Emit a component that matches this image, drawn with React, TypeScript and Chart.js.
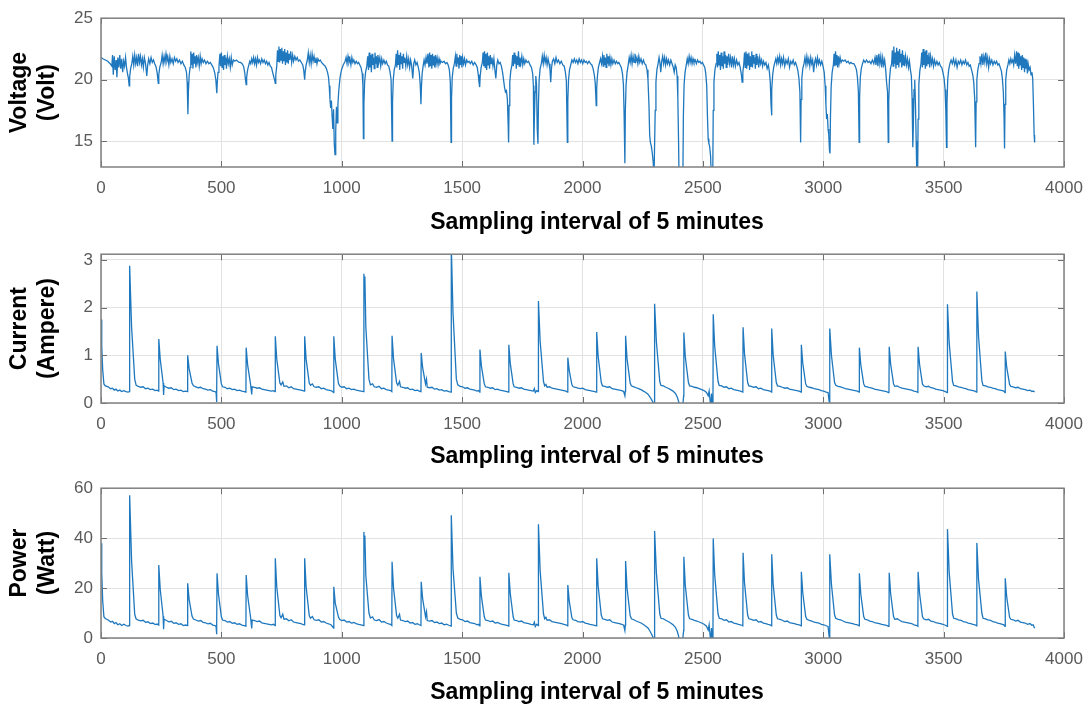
import React, { useEffect, useRef } from 'react';
import { Chart, registerables } from 'chart.js';

Chart.register(...registerables);
Chart.defaults.font.family = '"Liberation Sans", Arial, sans-serif';

const xTicks = [0, 500, 1000, 1500, 2000, 2500, 3000, 3500, 4000];
const voltageTicks = [15, 20, 25];
const currentTicks = [0, 1, 2, 3];
const powerTicks = [0, 20, 40, 60];
const xTitle = 'Sampling interval of 5 minutes';
const voltageTitle = ['Voltage', '(Volt)'];
const currentTitle = ['Current', '(Ampere)'];
const powerTitle = ['Power', '(Watt)'];

const voltagePts: [number, number][] = [
  [0,21.8],[8,21.7],[18,21.6],[28,21.5],[38,21.3],[45,21.1],[48,22.0],[51,20.4],[55,21.9],[59,20.8],[63,21.6],[66,20.2],[70,21.8],[74,21.0],[78,22.0],[82,20.9],[86,21.7],[90,20.6],[94,21.5],[98,21.1],[102,21.8],[106,21.0],[110,20.5],[114,20.1],[117,19.5],[119,20.2],[123,20.9],[128,21.3],
  [132,21.9],[136,21.2],[140,22.0],[144,21.3],[148,21.8],[152,21.1],[156,22.1],[160,21.4],[164,21.9],[168,21.2],[172,21.7],[176,21.0],[180,21.8],[185,21.3],[190,20.3],[194,21.2],[198,21.7],[203,21.3],[208,21.8],[213,21.4],[218,21.6],[223,21.3],[228,21.1],[233,20.6],[238,19.7],[240,20.4],[244,21.0],[250,21.4],
  [254,22.0],[258,21.3],[262,21.9],[266,21.4],[270,22.1],[274,21.5],[278,21.8],[282,21.2],[286,21.9],[290,21.4],[295,21.7],[300,21.3],[305,21.8],[310,21.5],[315,21.7],[320,21.4],[326,21.6],[332,21.3],[338,21.5],[344,21.2],[350,21.0],[355,20.6],[358,19.8],[361,17.2],[363,19.0],[366,20.3],[370,21.0],
  [373,22.3],[376,21.2],[379,22.1],[382,20.9],[385,22.2],[388,21.3],[391,21.9],[394,21.0],[397,22.0],[400,21.4],[404,21.8],[408,21.1],[412,21.9],[416,21.3],[420,21.7],[425,21.4],[430,21.6],[436,21.3],[442,21.5],[448,21.3],[454,21.4],[460,21.2],[466,21.0],[472,20.6],[477,20.0],[481,18.9],[483,19.8],[486,20.6],[490,21.1],
  [494,22.1],[497,21.1],[500,22.2],[503,21.0],[506,21.9],[509,20.8],[512,22.0],[515,21.2],[518,21.8],[521,20.9],[525,21.9],[529,21.3],[533,21.7],[537,21.0],[541,21.8],[545,21.2],[550,21.6],[556,21.5],[562,21.6],[568,21.5],[574,21.4],[580,21.4],[586,21.3],[592,21.1],[597,20.6],[600,20.0],[603,19.6],[605,20.2],[609,20.8],[614,21.2],
  [618,21.5],[622,21.3],[626,21.7],[630,21.4],[634,21.8],[638,21.3],[642,21.7],[646,21.2],[650,21.8],[654,21.4],[658,21.6],[663,21.3],[668,21.7],[673,21.4],[678,21.6],[683,21.3],[688,21.5],[693,21.2],[698,21.4],[703,21.1],[708,21.0],[713,20.6],[718,20.2],[721,20.0],[724,19.7],[726,20.4],[730,21.1],
  [733,22.4],[736,21.5],[739,22.7],[742,21.4],[745,22.5],[748,21.6],[751,22.6],[754,21.3],[757,22.3],[760,21.5],[763,22.5],[766,21.2],[769,22.2],[772,21.4],[775,22.4],[778,21.3],[781,22.1],[784,21.6],[788,22.3],[792,21.4],[796,22.0],[800,21.5],[805,21.9],[810,21.6],[815,21.8],[820,21.5],[826,21.6],[832,21.4],[838,21.2],[842,20.8],[846,20.0],[848,20.6],[852,21.2],[857,21.6],
  [861,22.2],[865,21.4],[869,22.0],[873,21.3],[877,22.1],[881,21.5],[885,21.9],[889,21.4],[893,21.8],[897,21.3],[901,21.7],[906,21.5],[911,21.6],[916,21.4],[921,21.3],[926,21.2],[931,21.1],[936,20.9],[941,20.6],[945,20.2],[948,19.5],[951,18.4],[954,17.7],[957,18.3],[960,17.0],[963,16.0],[966,17.6],[969,14.8],[972,13.9],[975,15.8],[978,17.8],[981,16.5],[984,18.0],[988,19.2],[993,20.2],[999,20.8],[1006,21.2],[1014,21.5],
  [1018,21.8],[1022,21.3],[1026,21.9],[1030,21.4],[1034,21.7],[1038,21.2],[1042,21.8],[1046,21.4],[1050,21.6],[1055,21.3],[1060,21.5],[1065,21.3],[1070,21.4],[1075,21.2],[1080,21.0],[1085,20.5],[1088,19.5],[1090,15.2],[1092,18.0],[1095,19.8],[1099,20.6],[1104,21.1],
  [1108,21.9],[1111,20.8],[1114,22.2],[1117,21.0],[1120,22.0],[1123,20.6],[1126,22.1],[1129,21.2],[1132,21.8],[1135,20.9],[1138,22.2],[1141,21.3],[1144,21.9],[1147,21.0],[1150,22.0],[1154,21.4],[1158,21.8],[1162,21.1],[1166,21.7],[1170,21.3],[1175,21.6],[1180,21.3],[1185,21.5],[1190,21.2],[1195,21.1],[1200,20.7],[1205,20.0],[1209,15.0],[1211,18.2],[1214,20.0],[1218,20.8],[1223,21.2],
  [1226,22.1],[1229,21.0],[1232,22.4],[1235,21.2],[1238,22.0],[1241,20.8],[1244,22.2],[1247,21.3],[1250,21.9],[1253,20.9],[1256,22.1],[1259,21.4],[1262,21.8],[1266,21.1],[1270,21.9],[1274,21.2],[1278,21.7],[1282,21.0],[1286,21.6],[1290,21.2],[1295,20.1],[1299,21.3],[1303,21.6],[1308,21.2],[1313,21.4],[1318,21.0],[1322,20.6],[1326,19.6],[1329,18.0],[1331,19.4],[1334,20.5],[1338,21.1],
  [1342,21.6],[1346,21.2],[1350,21.8],[1354,21.3],[1358,22.1],[1362,21.0],[1365,22.2],[1368,21.1],[1371,22.0],[1374,20.9],[1377,22.1],[1380,21.2],[1383,21.9],[1386,21.0],[1389,22.0],[1392,21.3],[1396,21.8],[1400,21.2],[1404,21.7],[1408,21.3],[1413,21.5],[1419,21.4],[1425,21.5],[1431,21.3],[1437,21.4],[1442,21.2],[1447,20.8],[1451,19.8],[1454,14.9],[1456,18.5],[1459,20.2],[1463,20.9],[1468,21.3],
  [1472,21.9],[1475,21.1],[1478,22.1],[1481,21.3],[1484,21.8],[1487,20.9],[1490,22.0],[1493,21.2],[1496,21.9],[1499,21.0],[1502,21.8],[1506,21.3],[1510,21.7],[1514,21.2],[1519,21.6],[1524,21.4],[1529,21.5],[1534,21.3],[1540,21.5],[1546,21.2],[1552,21.4],[1558,21.2],[1563,21.0],[1567,20.4],[1570,19.8],[1573,19.4],[1575,20.3],[1579,21.0],[1584,21.4],
  [1587,22.2],[1590,21.1],[1593,22.3],[1596,21.0],[1599,22.1],[1602,20.8],[1605,22.2],[1608,21.2],[1611,21.9],[1614,20.9],[1617,22.0],[1620,21.3],[1624,21.8],[1628,21.1],[1632,21.7],[1636,20.8],[1640,20.1],[1644,21.2],[1648,21.6],[1653,21.3],[1658,21.4],[1663,21.1],[1668,20.6],[1672,20.0],[1676,19.4],[1680,19.0],[1684,19.1],[1688,18.4],[1691,16.5],[1693,14.9],[1695,17.9],[1698,19.8],[1702,20.7],[1707,21.2],
  [1710,22.0],[1713,21.1],[1716,22.2],[1719,21.3],[1722,22.0],[1725,20.9],[1728,21.9],[1731,21.2],[1734,22.3],[1737,21.1],[1740,21.8],[1744,21.3],[1748,21.9],[1752,21.2],[1756,21.7],[1760,21.3],[1765,21.6],[1770,21.4],[1776,21.5],[1782,21.2],[1788,21.0],[1793,20.5],[1796,19.5],[1798,14.7],[1800,16.8],[1803,19.0],[1806,20.3],[1809,19.6],[1812,16.0],[1815,14.8],[1817,18.0],[1820,20.0],[1824,20.9],[1829,21.3],
  [1833,21.9],[1837,21.3],[1841,22.0],[1845,21.4],[1849,21.8],[1853,21.2],[1857,21.7],[1861,21.3],[1865,20.8],[1868,19.8],[1871,20.9],[1875,21.5],[1880,21.7],[1885,21.3],[1890,21.8],[1895,21.4],[1900,21.6],[1906,21.3],[1912,21.5],[1918,21.2],[1924,21.1],[1929,20.6],[1933,19.9],[1937,14.9],[1939,18.3],[1942,20.0],[1946,20.8],[1951,21.2],
  [1956,21.6],[1961,21.4],[1966,21.7],[1971,21.4],[1976,21.6],[1981,21.3],[1986,21.7],[1991,21.4],[1996,21.6],[2001,21.3],[2006,21.6],[2011,21.4],[2016,21.5],[2021,21.3],[2027,21.5],[2033,21.3],[2039,21.2],[2044,20.9],[2049,20.4],[2053,19.7],[2057,17.9],[2059,19.3],[2062,20.3],[2066,21.0],[2071,21.4],
  [2075,21.7],[2079,21.3],[2083,21.9],[2086,21.1],[2089,22.0],[2092,21.2],[2095,21.8],[2098,21.0],[2101,22.1],[2104,21.3],[2107,21.9],[2110,21.1],[2114,21.8],[2118,21.2],[2122,21.7],[2126,21.3],[2131,21.6],[2136,21.3],[2141,21.5],[2146,21.3],[2151,21.4],[2156,21.2],[2161,21.0],[2166,20.5],[2170,19.6],[2173,17.0],[2176,13.2],[2178,17.5],[2181,19.6],[2185,20.6],[2190,21.2],
  [2194,21.8],[2198,21.4],[2202,22.0],[2206,21.3],[2210,21.9],[2214,21.4],[2218,22.1],[2222,21.5],[2226,21.8],[2230,21.3],[2234,21.9],[2238,21.4],[2243,21.7],[2248,21.3],[2253,21.6],[2258,21.3],[2263,21.2],[2268,20.8],[2272,20.0],[2276,18.0],[2279,15.5],[2282,14.9],[2286,14.6],[2290,14.0],[2294,13.2],[2297,12.0],[2300,12.0],[2302,17.5],[2305,19.8],[2309,20.8],[2314,21.3],
  [2318,21.8],[2322,21.3],[2325,20.6],[2329,21.5],[2333,21.9],[2337,21.3],[2341,21.8],[2345,21.2],[2349,21.7],[2353,21.3],[2357,21.6],[2362,21.2],[2367,21.6],[2372,21.3],[2377,21.0],[2381,20.6],[2385,21.2],[2389,21.0],[2393,20.3],[2396,18.5],[2399,15.0],[2401,12.0],[2417,12.0],[2419,17.0],[2422,19.6],[2426,20.6],[2431,21.2],
  [2435,21.7],[2439,21.3],[2443,21.9],[2447,21.4],[2451,21.8],[2455,21.3],[2459,21.7],[2463,21.4],[2468,21.6],[2473,21.3],[2478,21.6],[2483,21.4],[2488,21.5],[2493,21.3],[2498,21.4],[2503,21.2],[2508,21.0],[2512,20.5],[2516,19.5],[2519,17.0],[2522,15.2],[2525,14.8],[2528,14.6],[2532,13.8],[2535,12.0],[2541,12.0],[2543,17.5],[2546,19.8],[2550,20.8],[2555,21.3],
  [2558,22.1],[2561,21.0],[2564,22.3],[2567,21.2],[2570,22.0],[2573,20.8],[2576,22.2],[2579,21.1],[2582,21.9],[2585,20.9],[2588,22.3],[2591,21.3],[2594,22.0],[2597,21.0],[2600,21.9],[2603,21.2],[2607,22.1],[2611,21.3],[2615,21.8],[2619,21.0],[2623,21.9],[2627,21.2],[2631,21.7],[2635,21.1],[2640,21.6],[2645,21.2],[2650,21.4],[2655,21.0],[2660,20.4],[2663,19.8],[2666,20.6],[2670,21.3],
  [2673,22.2],[2676,21.0],[2679,22.3],[2682,20.9],[2685,22.1],[2688,21.2],[2691,22.2],[2694,20.8],[2697,21.9],[2700,21.1],[2703,22.3],[2706,21.0],[2709,22.0],[2712,21.3],[2715,21.8],[2718,20.9],[2721,22.1],[2724,21.2],[2728,21.9],[2732,21.0],[2736,21.8],[2740,21.3],[2744,21.6],[2748,21.1],[2752,21.5],[2757,21.2],[2762,21.4],[2767,20.9],[2772,21.2],[2776,20.7],[2780,19.8],[2783,18.0],[2785,17.1],[2787,19.2],[2790,20.4],[2794,21.0],[2799,21.4],
  [2803,21.7],[2807,21.3],[2811,21.8],[2815,21.4],[2819,21.9],[2823,21.2],[2827,21.7],[2831,21.3],[2835,21.8],[2840,21.1],[2845,21.6],[2850,21.3],[2855,21.7],[2860,21.0],[2865,21.5],[2870,21.3],[2875,21.6],[2880,21.2],[2885,21.4],[2890,21.1],[2895,20.7],[2899,20.1],[2903,19.0],[2906,14.9],[2908,18.4],[2911,20.1],[2915,20.9],[2920,21.3],
  [2924,21.8],[2928,21.2],[2932,21.9],[2936,21.3],[2940,21.7],[2944,21.1],[2948,21.8],[2952,21.3],[2956,21.6],[2960,20.6],[2964,21.4],[2968,21.7],[2972,21.2],[2976,21.8],[2980,21.3],[2984,21.6],[2989,21.2],[2994,21.5],[2999,21.1],[3004,20.6],[3008,19.5],[3011,18.0],[3014,16.8],[3017,17.2],[3020,16.0],[3023,15.5],[3026,14.2],[3028,14.0],[3030,17.0],[3033,19.5],[3037,20.6],[3042,21.2],
  [3045,22.1],[3048,21.1],[3051,22.3],[3054,21.2],[3057,22.0],[3060,21.0],[3063,21.9],[3066,21.3],[3070,21.8],[3074,21.4],[3079,21.6],[3085,21.5],[3091,21.6],[3097,21.4],[3103,21.5],[3109,21.3],[3115,21.4],[3121,21.3],[3127,21.3],[3133,21.1],[3138,20.8],[3142,20.2],[3146,19.0],[3149,14.9],[3151,18.5],[3154,20.2],[3158,20.9],[3163,21.3],
  [3168,21.6],[3174,21.4],[3180,21.6],[3186,21.4],[3192,21.5],[3198,21.3],[3204,21.6],[3210,21.3],[3215,21.8],[3219,21.2],[3223,22.0],[3227,21.1],[3231,22.1],[3235,21.3],[3239,21.9],[3243,21.0],[3247,21.8],[3251,21.2],[3255,21.6],[3259,20.9],[3263,19.8],[3267,19.0],[3270,14.9],[3272,18.2],[3275,20.0],[3279,20.9],[3284,21.3],
  [3287,22.4],[3290,21.1],[3293,22.7],[3296,21.3],[3299,22.2],[3302,20.9],[3305,22.6],[3308,21.2],[3311,22.3],[3314,21.0],[3317,22.5],[3320,21.4],[3323,22.1],[3326,21.0],[3329,22.4],[3332,21.2],[3335,22.0],[3338,21.1],[3342,21.9],[3346,21.2],[3350,21.7],[3354,21.0],[3358,21.5],[3362,20.8],[3366,20.3],[3369,18.5],[3372,14.5],[3374,16.0],[3377,19.2],[3380,20.0],[3383,18.0],[3386,15.0],[3389,12.0],[3392,12.0],[3394,16.8],[3397,19.6],[3401,20.7],[3406,21.3],
  [3409,22.2],[3412,21.0],[3415,22.5],[3418,21.2],[3421,22.3],[3424,20.9],[3427,22.4],[3430,21.1],[3433,22.0],[3436,21.3],[3439,22.2],[3442,21.0],[3446,21.9],[3450,21.3],[3454,21.7],[3458,21.1],[3462,21.6],[3467,21.2],[3472,21.5],[3477,21.2],[3482,21.4],[3487,21.1],[3492,21.0],[3497,20.6],[3502,20.1],[3506,19.2],[3509,17.5],[3512,14.5],[3514,18.0],[3517,20.0],[3521,20.8],[3526,21.3],
  [3531,21.6],[3536,21.3],[3541,21.7],[3546,21.2],[3551,21.6],[3556,21.0],[3561,21.5],[3566,21.3],[3571,21.6],[3576,21.2],[3581,21.5],[3586,21.3],[3591,21.6],[3596,21.2],[3601,21.4],[3606,21.1],[3611,21.2],[3616,20.8],[3621,20.4],[3625,19.8],[3629,18.5],[3633,14.5],[3635,18.2],[3638,20.0],[3642,20.8],[3647,21.3],
  [3651,21.9],[3655,21.3],[3659,22.1],[3663,21.2],[3667,21.9],[3671,21.4],[3675,22.2],[3679,21.3],[3683,21.8],[3687,21.0],[3691,21.7],[3695,21.3],[3700,21.6],[3705,21.2],[3710,21.5],[3715,21.3],[3720,21.5],[3725,21.2],[3730,21.3],[3735,21.0],[3740,20.7],[3744,20.1],[3748,19.0],[3751,17.0],[3753,14.4],[3755,18.0],[3758,20.0],[3762,20.8],[3767,21.2],
  [3771,21.6],[3775,21.3],[3779,21.7],[3783,21.4],[3787,21.6],[3791,21.2],[3795,22.0],[3799,21.3],[3803,22.3],[3806,21.1],[3809,22.2],[3812,20.9],[3815,22.1],[3818,21.2],[3821,21.9],[3824,20.8],[3827,22.0],[3830,21.0],[3833,21.8],[3836,20.6],[3839,21.7],[3842,20.9],[3845,21.6],[3848,20.5],[3851,21.3],[3855,20.8],[3859,21.0],[3863,20.4],[3867,20.6],[3870,20.1],[3873,18.0],[3876,15.5],[3878,14.9],
];

const currentPts: [number, number][] = [
  [0,1.75],[3,1.2],[7,0.7],[12,0.4],[18,0.36],[30,0.34],[40,0.30],[48,0.31],[55,0.27],[62,0.29],[70,0.25],[78,0.27],[86,0.24],[95,0.26],[104,0.24],[112,0.23],[118,0.24],
  [119,2.88],[127,1.6],[140,0.5],[146,0.37],[155,0.35],[165,0.33],[175,0.34],[185,0.30],[195,0.31],[205,0.28],[215,0.29],[225,0.26],[233,0.27],[239,0.25],
  [240,1.34],[246,0.92],[258,0.42],[260,0.17],[262,0.36],[272,0.33],[282,0.31],[292,0.32],[302,0.28],[312,0.29],[322,0.26],[332,0.27],[342,0.24],[352,0.25],[359,0.24],
  [360,1.0],[366,0.72],[378,0.42],[384,0.36],[394,0.34],[404,0.32],[414,0.33],[424,0.30],[434,0.29],[444,0.27],[454,0.28],[464,0.25],[474,0.24],[478,0.22],[480,0.02],[481,0.22],
  [482,1.2],[488,0.82],[500,0.4],[505,0.34],[515,0.33],[525,0.30],[535,0.31],[545,0.28],[555,0.29],[565,0.26],[575,0.27],[585,0.25],[595,0.24],[602,0.23],
  [603,1.16],[609,0.8],[621,0.4],[626,0.18],[628,0.34],[638,0.33],[648,0.31],[658,0.32],[668,0.29],[678,0.28],[688,0.27],[698,0.26],[708,0.25],[716,0.26],[723,0.24],
  [724,1.4],[730,0.92],[743,0.42],[748,0.38],[755,0.44],[760,0.35],[770,0.36],[780,0.32],[790,0.34],[800,0.30],[810,0.29],[820,0.28],[830,0.27],[838,0.26],[845,0.25],
  [846,1.4],[852,0.92],[865,0.42],[870,0.37],[878,0.40],[885,0.34],[895,0.33],[905,0.34],[915,0.30],[925,0.31],[935,0.28],[945,0.27],[955,0.26],[962,0.24],[966,0.22],
  [967,1.4],[973,0.92],[986,0.42],[991,0.36],[1000,0.33],[1010,0.34],[1020,0.30],[1030,0.31],[1040,0.28],[1050,0.29],[1060,0.27],[1070,0.26],[1080,0.25],[1091,0.24],
  [1092,2.71],[1094,2.4],[1096,2.65],[1100,1.6],[1113,0.5],[1119,0.38],[1128,0.40],[1135,0.34],[1145,0.33],[1155,0.35],[1165,0.30],[1175,0.31],[1185,0.28],[1195,0.27],[1203,0.26],[1208,0.24],
  [1209,1.41],[1215,0.93],[1228,0.42],[1233,0.37],[1240,0.45],[1244,0.34],[1254,0.33],[1264,0.31],[1274,0.32],[1284,0.28],[1294,0.29],[1304,0.26],[1314,0.27],[1322,0.25],[1329,0.24],
  [1330,1.05],[1336,0.74],[1348,0.4],[1352,0.5],[1355,0.33],[1365,0.32],[1375,0.33],[1385,0.29],[1395,0.30],[1405,0.27],[1415,0.28],[1425,0.25],[1435,0.26],[1445,0.24],[1454,0.23],
  [1455,3.3],[1462,1.9],[1476,0.5],[1482,0.38],[1492,0.35],[1502,0.34],[1512,0.31],[1522,0.32],[1532,0.29],[1542,0.28],[1552,0.27],[1562,0.25],[1568,0.26],[1573,0.23],
  [1574,1.12],[1580,0.78],[1592,0.4],[1597,0.34],[1607,0.33],[1617,0.31],[1627,0.32],[1637,0.28],[1647,0.29],[1657,0.27],[1667,0.26],[1677,0.25],[1686,0.24],[1693,0.23],
  [1694,1.22],[1700,0.83],[1712,0.4],[1716,0.34],[1726,0.33],[1736,0.31],[1746,0.32],[1756,0.29],[1766,0.28],[1776,0.27],[1786,0.26],[1796,0.25],[1800,0.30],[1804,0.22],[1810,0.26],[1816,0.24],
  [1817,2.14],[1824,1.3],[1838,0.45],[1843,0.36],[1848,0.39],[1853,0.33],[1863,0.34],[1873,0.31],[1883,0.30],[1893,0.29],[1903,0.28],[1913,0.27],[1923,0.26],[1931,0.25],[1938,0.23],
  [1939,0.95],[1945,0.68],[1956,0.38],[1961,0.34],[1971,0.33],[1981,0.31],[1991,0.30],[2001,0.31],[2011,0.28],[2021,0.27],[2031,0.26],[2041,0.25],[2051,0.24],[2058,0.23],
  [2059,1.49],[2065,0.98],[2078,0.43],[2083,0.36],[2093,0.35],[2103,0.33],[2113,0.34],[2123,0.30],[2133,0.29],[2143,0.28],[2153,0.27],[2163,0.26],[2171,0.24],[2176,0.15],[2178,0.25],
  [2179,1.41],[2185,0.93],[2198,0.42],[2203,0.36],[2213,0.34],[2223,0.32],[2233,0.30],[2243,0.28],[2253,0.25],[2263,0.22],[2273,0.18],[2281,0.12],[2288,0.06],[2294,0.0],[2297,-0.1],[2299,0.1],
  [2300,2.08],[2307,1.28],[2321,0.45],[2326,0.37],[2336,0.36],[2346,0.33],[2356,0.31],[2366,0.28],[2376,0.25],[2386,0.20],[2394,0.12],[2400,0.02],[2405,-0.1],[2416,-0.1],[2420,0.15],
  [2421,1.48],[2427,0.97],[2440,0.43],[2445,0.36],[2455,0.35],[2465,0.33],[2475,0.32],[2485,0.30],[2495,0.28],[2505,0.26],[2515,0.22],[2522,0.15],[2526,0.25],[2530,0.05],[2533,-0.1],[2536,0.2],[2538,-0.1],[2542,0.1],
  [2543,1.86],[2549,1.2],[2563,0.45],[2568,0.37],[2578,0.36],[2588,0.33],[2598,0.34],[2608,0.30],[2618,0.31],[2628,0.28],[2638,0.27],[2648,0.26],[2656,0.25],[2666,0.23],
  [2667,1.59],[2673,1.03],[2686,0.43],[2691,0.36],[2701,0.35],[2711,0.33],[2721,0.34],[2731,0.30],[2741,0.31],[2751,0.28],[2761,0.27],[2771,0.26],[2779,0.25],[2785,0.23],
  [2786,1.56],[2792,1.0],[2805,0.43],[2810,0.36],[2820,0.35],[2830,0.33],[2840,0.31],[2850,0.32],[2860,0.29],[2870,0.28],[2880,0.27],[2890,0.26],[2900,0.25],[2908,0.23],
  [2909,1.22],[2915,0.83],[2927,0.4],[2932,0.35],[2942,0.33],[2952,0.32],[2962,0.30],[2972,0.29],[2982,0.28],[2992,0.26],[3002,0.25],[3012,0.23],[3020,0.22],[3024,0.05],[3026,0.2],[3027,0.0],
  [3028,1.56],[3034,1.0],[3047,0.43],[3052,0.37],[3062,0.35],[3072,0.34],[3082,0.32],[3092,0.30],[3102,0.29],[3112,0.28],[3122,0.27],[3132,0.26],[3142,0.25],[3149,0.23],
  [3150,1.16],[3156,0.8],[3168,0.4],[3173,0.35],[3183,0.34],[3193,0.32],[3203,0.31],[3213,0.29],[3223,0.28],[3233,0.27],[3243,0.26],[3253,0.25],[3263,0.24],[3270,0.22],[3273,0.25],
  [3274,1.18],[3280,0.81],[3292,0.4],[3297,0.35],[3307,0.36],[3317,0.33],[3327,0.31],[3337,0.30],[3347,0.29],[3357,0.28],[3367,0.27],[3377,0.25],[3386,0.24],[3393,0.22],
  [3394,1.18],[3400,0.81],[3412,0.4],[3417,0.36],[3427,0.34],[3437,0.35],[3447,0.32],[3457,0.31],[3467,0.29],[3477,0.28],[3487,0.27],[3497,0.26],[3507,0.24],[3515,0.22],
  [3516,2.07],[3523,1.27],[3537,0.45],[3542,0.37],[3552,0.36],[3562,0.34],[3572,0.33],[3582,0.31],[3592,0.30],[3602,0.28],[3612,0.27],[3622,0.26],[3630,0.25],[3637,0.23],
  [3638,2.34],[3645,1.4],[3659,0.46],[3664,0.37],[3674,0.36],[3684,0.34],[3694,0.33],[3704,0.31],[3714,0.30],[3724,0.28],[3734,0.27],[3744,0.26],[3750,0.25],[3755,0.22],
  [3756,1.08],[3762,0.75],[3774,0.39],[3779,0.35],[3789,0.34],[3799,0.32],[3809,0.33],[3819,0.30],[3829,0.29],[3839,0.28],[3849,0.26],[3859,0.27],[3866,0.24],[3872,0.25],[3878,0.23],
];

const powerPts: [number, number][] = [
  [0,38],[3,26],[7,15],[12,8.5],[18,7.8],[30,7.2],[40,6.4],[48,6.7],[55,5.8],[62,6.2],[70,5.3],[78,5.7],[86,5.0],[95,5.5],[104,5.0],[112,4.8],[118,5.0],
  [119,57.2],[127,31],[140,9.5],[146,7.6],[155,7.2],[165,6.9],[175,7.1],[185,6.3],[195,6.5],[205,5.8],[215,6.0],[225,5.4],[233,5.6],[239,5.2],
  [240,29.2],[246,19.5],[258,8.8],[260,3.5],[262,7.6],[272,7.0],[282,6.5],[292,6.7],[302,5.9],[312,6.1],[322,5.5],[332,5.7],[342,5.0],[352,5.2],[359,5.0],
  [360,21.9],[366,15.5],[378,8.8],[384,7.6],[394,7.2],[404,6.8],[414,7.0],[424,6.3],[434,6.1],[444,5.7],[454,5.9],[464,5.2],[474,5.0],[478,4.6],[480,1.5],[481,4.6],
  [482,25.9],[488,17.5],[500,8.5],[505,7.2],[515,7.0],[525,6.4],[535,6.6],[545,5.9],[555,6.1],[565,5.5],[575,5.7],[585,5.2],[595,5.0],[602,4.8],
  [603,25.2],[609,17],[621,8.5],[626,3.8],[628,7.2],[638,7.0],[648,6.6],[658,6.8],[668,6.1],[678,5.9],[688,5.7],[698,5.5],[708,5.3],[716,5.5],[723,5.0],
  [724,31.9],[730,20.5],[743,9.0],[748,8.1],[755,9.5],[760,7.5],[770,7.7],[780,6.9],[790,7.3],[800,6.4],[810,6.2],[820,6.0],[830,5.8],[838,5.5],[845,5.3],
  [846,31.9],[852,20.5],[865,9.0],[870,7.9],[878,8.6],[885,7.3],[895,7.1],[905,7.3],[915,6.4],[925,6.6],[935,6.0],[945,5.7],[955,5.3],[962,4.5],[966,4.0],
  [967,20.5],[973,14],[986,8.5],[991,7.5],[1000,7.0],[1010,7.2],[1020,6.4],[1030,6.6],[1040,6.0],[1050,6.2],[1060,5.8],[1070,5.5],[1080,5.3],[1091,5.0],
  [1092,42.5],[1094,36],[1096,41],[1100,25],[1113,10],[1119,8.0],[1128,8.5],[1135,7.2],[1145,7.0],[1155,7.4],[1165,6.4],[1175,6.6],[1185,6.0],[1195,5.7],[1203,5.5],[1208,5.0],
  [1209,30.5],[1215,20],[1228,8.9],[1233,7.9],[1240,9.5],[1244,7.2],[1254,7.0],[1264,6.6],[1274,6.8],[1284,6.0],[1294,6.2],[1304,5.5],[1314,5.7],[1322,5.3],[1329,5.0],
  [1330,22.5],[1336,15.8],[1348,8.5],[1352,10.5],[1355,7.0],[1365,6.8],[1375,7.0],[1385,6.2],[1395,6.4],[1405,5.8],[1415,6.0],[1425,5.3],[1435,5.5],[1445,5.1],[1454,4.8],
  [1455,49.2],[1462,28],[1476,10],[1482,8.0],[1492,7.5],[1502,7.3],[1512,6.6],[1522,6.8],[1532,6.2],[1542,6.0],[1552,5.8],[1562,5.3],[1568,5.5],[1573,4.9],
  [1574,24.5],[1580,16.8],[1592,8.5],[1597,7.2],[1607,7.0],[1617,6.6],[1627,6.8],[1637,6.0],[1647,6.2],[1657,5.8],[1667,5.5],[1677,5.3],[1686,5.1],[1693,4.8],
  [1694,26.1],[1700,17.8],[1712,8.5],[1716,7.2],[1726,7.0],[1736,6.6],[1746,6.8],[1756,6.2],[1766,6.0],[1776,5.8],[1786,5.5],[1796,5.3],[1800,6.3],[1804,4.6],[1810,5.5],[1816,5.0],
  [1817,45.6],[1824,27],[1838,9.6],[1843,7.7],[1848,8.3],[1853,7.1],[1863,7.3],[1873,6.6],[1883,6.4],[1893,6.2],[1903,6.0],[1913,5.8],[1923,5.5],[1931,5.3],[1938,4.9],
  [1939,21.2],[1945,14.8],[1956,8.1],[1961,7.3],[1971,7.1],[1981,6.6],[1991,6.4],[2001,6.6],[2011,6.0],[2021,5.8],[2031,5.5],[2041,5.3],[2051,5.1],[2058,4.9],
  [2059,31.9],[2065,20.8],[2078,9.2],[2083,7.7],[2093,7.5],[2103,7.1],[2113,7.3],[2123,6.4],[2133,6.2],[2143,6.0],[2153,5.8],[2163,5.5],[2171,5.1],[2176,3.0],[2178,5.2],
  [2179,30.8],[2185,20],[2198,9.0],[2203,7.7],[2213,7.3],[2223,6.8],[2233,6.4],[2243,6.0],[2253,5.4],[2263,4.7],[2273,3.9],[2281,2.6],[2288,1.3],[2294,0.0],[2297,-1],[2299,2],
  [2300,42.9],[2307,26],[2321,9.6],[2326,7.9],[2336,7.7],[2346,7.1],[2356,6.6],[2366,6.0],[2376,5.3],[2386,4.3],[2394,2.6],[2400,0.4],[2405,-1],[2416,-1],[2420,3],
  [2421,32.5],[2427,21],[2440,9.2],[2445,7.7],[2455,7.5],[2465,7.1],[2475,6.8],[2485,6.4],[2495,6.0],[2505,5.5],[2515,4.7],[2522,3.2],[2526,5.3],[2530,1.0],[2533,-1],[2536,4],[2538,-1],[2542,2],
  [2543,39.9],[2549,25.5],[2563,9.6],[2568,7.9],[2578,7.7],[2588,7.1],[2598,7.3],[2608,6.4],[2618,6.6],[2628,6.0],[2638,5.8],[2648,5.5],[2656,5.3],[2666,4.9],
  [2667,34.1],[2673,22],[2686,9.2],[2691,7.7],[2701,7.5],[2711,7.1],[2721,7.3],[2731,6.4],[2741,6.6],[2751,6.0],[2761,5.8],[2771,5.5],[2779,5.3],[2785,4.9],
  [2786,33.5],[2792,21.5],[2805,9.2],[2810,7.7],[2820,7.5],[2830,7.1],[2840,6.6],[2850,6.8],[2860,6.2],[2870,6.0],[2880,5.8],[2890,5.5],[2900,5.3],[2908,4.9],
  [2909,26.5],[2915,18],[2927,8.6],[2932,7.5],[2942,7.1],[2952,6.8],[2962,6.4],[2972,6.2],[2982,6.0],[2992,5.5],[3002,5.3],[3012,4.9],[3020,4.6],[3024,1.0],[3026,4.2],[3027,-1],
  [3028,33.5],[3034,21.5],[3047,9.2],[3052,7.9],[3062,7.5],[3072,7.3],[3082,6.8],[3092,6.4],[3102,6.2],[3112,6.0],[3122,5.8],[3132,5.5],[3142,5.3],[3149,4.9],
  [3150,25.9],[3156,17.5],[3168,8.6],[3173,7.5],[3183,7.3],[3193,6.8],[3203,6.6],[3213,6.2],[3223,6.0],[3233,5.8],[3243,5.5],[3253,5.3],[3263,5.1],[3270,4.7],[3273,5.3],
  [3274,26.1],[3280,17.7],[3292,8.6],[3297,7.5],[3307,7.7],[3317,7.1],[3327,6.6],[3337,6.4],[3347,6.2],[3357,6.0],[3367,5.8],[3377,5.3],[3386,5.1],[3393,4.7],
  [3394,26.5],[3400,18],[3412,8.6],[3417,7.7],[3427,7.3],[3437,7.5],[3447,6.8],[3457,6.6],[3467,6.2],[3477,6.0],[3487,5.8],[3497,5.5],[3507,5.1],[3515,4.7],
  [3516,43.6],[3523,26.5],[3537,9.6],[3542,7.9],[3552,7.7],[3562,7.3],[3572,7.1],[3582,6.6],[3592,6.4],[3602,6.0],[3612,5.8],[3622,5.5],[3630,5.3],[3637,4.9],
  [3638,38.1],[3645,23.5],[3659,9.8],[3664,7.9],[3674,7.7],[3684,7.3],[3694,7.1],[3704,6.6],[3714,6.4],[3724,6.0],[3734,5.8],[3744,5.5],[3750,5.3],[3755,4.7],
  [3756,23.9],[3762,16.5],[3774,8.3],[3779,7.5],[3789,7.3],[3799,6.8],[3809,7.1],[3819,6.4],[3829,6.2],[3839,6.0],[3849,5.5],[3859,5.8],[3866,5.1],[3872,5.3],[3878,3.9],
];

const FONT = '"Liberation Sans", Arial, sans-serif';

const decorPlugin = {
  id: 'decor',
  afterDatasetsDraw(chart: any, _args: any, opts: any) {
    const { ctx, chartArea: a, scales } = chart;
    ctx.save();
    ctx.strokeStyle = '#6e6e6e';
    ctx.lineWidth = 1;
    ctx.beginPath();
    const tl = 6;
    for (const t of scales.x.ticks) {
      const px = Math.round(scales.x.getPixelForValue(t.value)) + 0.5;
      ctx.moveTo(px, a.bottom); ctx.lineTo(px, a.bottom - tl);
      ctx.moveTo(px, a.top); ctx.lineTo(px, a.top + tl);
    }
    for (const t of scales.y.ticks) {
      const py = Math.round(scales.y.getPixelForValue(t.value)) + 0.5;
      ctx.moveTo(a.left, py); ctx.lineTo(a.left + tl, py);
      ctx.moveTo(a.right, py); ctx.lineTo(a.right - tl, py);
    }
    ctx.stroke();
    ctx.strokeStyle = '#808080';
    ctx.lineWidth = 1.5;
    ctx.strokeRect(a.left, a.top, a.right - a.left, a.bottom - a.top);
    ctx.fillStyle = '#000';
    ctx.font = `bold 23px ${FONT}`;
    ctx.textAlign = 'center';
    ctx.textBaseline = 'middle';
    ctx.fillText(opts.text, opts.cx, chart.height - opts.fromBottom);
    ctx.restore();
  },
};

type PanelCfg = {
  pts: [number, number][];
  yTicks: number[];
  yMin: number;
  yMax: number;
  yTitle: string[];
  top: number;
  height: number;
  areaTop: number;
  areaBottom: number;
};

const panels: PanelCfg[] = [
  { pts: voltagePts, yTicks: voltageTicks, yMin: 12.9, yMax: 25, yTitle: voltageTitle, top: 0, height: 236, areaTop: 16, areaBottom: 167 },
  { pts: currentPts, yTicks: currentTicks, yMin: 0, yMax: 3.12, yTitle: currentTitle, top: 236, height: 234, areaTop: 16, areaBottom: 167 },
  { pts: powerPts, yTicks: powerTicks, yMin: 0, yMax: 60, yTitle: powerTitle, top: 470, height: 236, areaTop: 17, areaBottom: 168 },
];

function Panel({ cfg }: { cfg: PanelCfg }) {
  const ref = useRef<HTMLCanvasElement>(null);
  useEffect(() => {
    const canvas = ref.current!;
    const chart = new Chart(canvas, {
      type: 'line',
      data: {
        datasets: [
          {
            data: cfg.pts.map(([x, y]) => ({ x, y })),
            borderColor: '#1f78be',
            borderWidth: 1.3,
            pointRadius: 0,
            tension: 0,
            fill: false,
            clip: 0,
          } as any,
        ],
      },
      options: {
        responsive: false,
        animation: false,
        devicePixelRatio: 1,
        events: [],
        layout: { padding: { left: 0, right: 23, top: cfg.areaTop, bottom: 0 } },
        plugins: {
          legend: { display: false },
          tooltip: { enabled: false },
          decor: { text: xTitle, cx: 597, fromBottom: 13 },
        } as any,
        scales: {
          x: {
            type: 'linear',
            min: 0,
            max: 4000,
            afterBuildTicks: (s: any) => { s.ticks = xTicks.map((v) => ({ value: v })); },
            afterFit: (s: any) => { s.height = cfg.height - cfg.areaBottom; },
            grid: { color: '#e2e2e2', lineWidth: 1, drawTicks: true, tickLength: 8, tickColor: 'rgba(0,0,0,0)' },
            border: { display: false },
            ticks: {
              padding: 3,
              color: '#5a5a5a',
              font: { size: 17, family: FONT },
              maxRotation: 0,
              autoSkip: false,
              callback: (v: any) => String(v),
            },
          },
          y: {
            type: 'linear',
            min: cfg.yMin,
            max: cfg.yMax,
            afterBuildTicks: (s: any) => { s.ticks = cfg.yTicks.map((v) => ({ value: v })); },
            afterFit: (s: any) => { s.width = 101; },
            grid: { color: '#e2e2e2', lineWidth: 1, drawTicks: false },
            border: { display: false },
            ticks: {
              padding: 8,
              color: '#5a5a5a',
              font: { size: 17, family: FONT },
              autoSkip: false,
              callback: (v: any) => String(v),
            },
            title: {
              display: true,
              text: cfg.yTitle,
              color: '#000',
              font: { size: 23, weight: 'bold', family: FONT, lineHeight: 1.2 },
              padding: { top: 6, bottom: 0 },
            },
          },
        },
      } as any,
      plugins: [decorPlugin],
    });
    return () => chart.destroy();
  }, [cfg]);
  return (
    <canvas
      ref={ref}
      width={1087}
      height={cfg.height}
      style={{ position: 'absolute', left: 0, top: cfg.top, width: 1087, height: cfg.height }}
    />
  );
}

export default function App() {
  return (
    <div style={{ position: 'fixed', left: 0, top: 0, width: 1087, height: 706, background: '#fff', overflow: 'hidden' }}>
      {panels.map((p, i) => (
        <Panel key={i} cfg={p} />
      ))}
    </div>
  );
}
